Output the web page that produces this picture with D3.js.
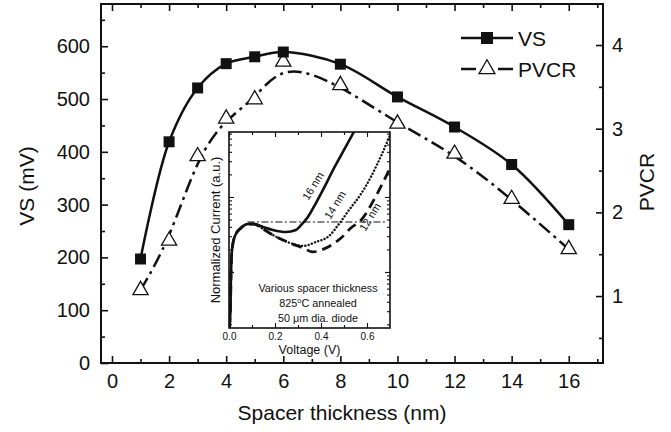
<!DOCTYPE html>
<html>
<head>
<meta charset="utf-8">
<script src="https://cdn.jsdelivr.net/npm/d3@7"></script>
<style>
  body { margin: 0; background: #fff; }
  text { font-family: "Liberation Sans", Arial, Helvetica, sans-serif; fill: #111; }
</style>
</head>
<body>
<div id="chart"></div>
<script>
// Main chart data
const thickness = [1, 2, 3, 4, 5, 6, 8, 10, 12, 14, 16];
const vsValues = [197, 419, 521, 567, 580, 589, 566, 504, 447, 376, 262];
const pvcrValues = [1.07, 1.66, 2.67, 3.12, 3.35, 3.80, 3.52, 3.06, 2.70, 2.16, 1.56];

const xTicks = [0, 2, 4, 6, 8, 10, 12, 14, 16];
const xMinorTicks = [1, 3, 5, 7, 9, 11, 13, 15, 17];
const vsTicks = [0, 100, 200, 300, 400, 500, 600];
const vsMinorTicks = [50, 150, 250, 350, 450, 550, 650];
const pvcrTicks = [1, 2, 3, 4];
const pvcrMinorTicks = [0.5, 1.5, 2.5, 3.5];

// Inset: normalized I-V curves (voltage in V, current in a.u.)
const iv16V = [0.002, 0.003, 0.007, 0.009, 0.013, 0.026, 0.052, 0.083, 0.109, 0.148, 0.191, 0.248, 0.291, 0.313, 0.343, 0.378, 0.413, 0.457, 0.5, 0.543, 0.555];
const iv16I = [0.0179, 0.0197, 0.042, 0.106, 0.196, 0.302, 0.386, 0.436, 0.436, 0.398, 0.363, 0.341, 0.363, 0.42, 0.54, 0.83, 1.32, 2.44, 4.23, 7.36, 8.6];
const iv14V = [0.002, 0.003, 0.007, 0.009, 0.013, 0.026, 0.052, 0.083, 0.109, 0.148, 0.191, 0.265, 0.322, 0.378, 0.435, 0.478, 0.522, 0.574, 0.617, 0.661, 0.704];
const iv14I = [0.0179, 0.0197, 0.042, 0.106, 0.196, 0.302, 0.386, 0.436, 0.436, 0.374, 0.311, 0.244, 0.222, 0.251, 0.302, 0.436, 0.671, 1.10, 1.85, 3.52, 7.13];
const iv12V = [0.002, 0.003, 0.007, 0.009, 0.013, 0.026, 0.052, 0.083, 0.109, 0.148, 0.191, 0.265, 0.322, 0.365, 0.413, 0.487, 0.53, 0.574, 0.639, 0.696];
const iv12I = [0.0179, 0.0197, 0.042, 0.106, 0.196, 0.302, 0.386, 0.436, 0.436, 0.374, 0.311, 0.244, 0.209, 0.185, 0.203, 0.284, 0.386, 0.49, 1.03, 2.29];
const peakV = [0.08, 0.68];
const peakI = 0.464;

const insetVTicks = [0.0, 0.2, 0.4, 0.6];
const insetVMinorTicks = [0.1, 0.3, 0.5];
const insetITicks = [0.1, 1];
const insetIMinorTicks = [0.01, 0.1, 1].flatMap(d => [2, 3, 4, 5, 6, 7, 8, 9].map(m => d * m));

const W = 671, H = 432;
const ink = "#111";

const svg = d3.select("#chart")
    .append("svg")
    .attr("width", W)
    .attr("height", H);

svg.append("rect").attr("width", W).attr("height", H).attr("fill", "#fff");

// Scales for the main plot
const x = d3.scaleLinear().domain([-0.385, 17.2]).range([101, 603]);
const yL = d3.scaleLinear().domain([0, 680]).range([363, 4]);
const yR = d3.scaleLinear().domain([0.2, 4.49]).range([363, 4]);

// Helper: add an axis, strip the domain, style ticks
const addAxis = (parent, axis, transform, fontSize, strokeW) => {
    const g = parent.append("g")
        .attr("transform", transform)
        .call(axis)
        .attr("font-size", fontSize)
        .attr("font-family", null);
    g.select(".domain").remove();
    g.selectAll("line").attr("stroke", ink).attr("stroke-width", strokeW);
    g.selectAll("text").attr("fill", ink);
    return g;
};

const noLabel = () => "";

// Main axes, ticks pointing inward on all four sides
addAxis(svg, d3.axisBottom(x).tickValues(xTicks).tickSize(-7).tickPadding(11).tickSizeOuter(0), "translate(0,363)", 20, 1.6);
addAxis(svg, d3.axisBottom(x).tickValues(xMinorTicks).tickSize(-4).tickFormat(noLabel).tickSizeOuter(0), "translate(0,363)", 10, 1.6);
addAxis(svg, d3.axisTop(x).tickValues(xTicks).tickSize(-7).tickFormat(noLabel).tickSizeOuter(0), "translate(0,4)", 10, 1.6);
addAxis(svg, d3.axisTop(x).tickValues(xMinorTicks).tickSize(-4).tickFormat(noLabel).tickSizeOuter(0), "translate(0,4)", 10, 1.6);

addAxis(svg, d3.axisLeft(yL).tickValues(vsTicks).tickSize(-7).tickPadding(11).tickSizeOuter(0), "translate(101,0)", 20, 1.6);
addAxis(svg, d3.axisLeft(yL).tickValues(vsMinorTicks).tickSize(-4).tickFormat(noLabel).tickSizeOuter(0), "translate(101,0)", 10, 1.6);

addAxis(svg, d3.axisRight(yR).tickValues(pvcrTicks).tickSize(-7).tickPadding(9).tickFormat(d3.format("d")).tickSizeOuter(0), "translate(603,0)", 20, 1.6);
addAxis(svg, d3.axisRight(yR).tickValues(pvcrMinorTicks).tickSize(-4).tickFormat(noLabel).tickSizeOuter(0), "translate(603,0)", 10, 1.6);

// Frame
svg.append("rect")
    .attr("x", 101).attr("y", 4)
    .attr("width", 603 - 101).attr("height", 363 - 4)
    .attr("fill", "none")
    .attr("stroke", ink)
    .attr("stroke-width", 2);

// Axis titles
svg.append("text")
    .attr("x", 342).attr("y", 420)
    .attr("text-anchor", "middle")
    .attr("font-size", 21)
    .text("Spacer thickness (nm)");

svg.append("text")
    .attr("transform", "translate(27,186) rotate(-90)")
    .attr("text-anchor", "middle")
    .attr("dy", "0.35em")
    .attr("font-size", 21)
    .text("VS (mV)");

svg.append("text")
    .attr("transform", "translate(647,182) rotate(-90)")
    .attr("text-anchor", "middle")
    .attr("dy", "0.35em")
    .attr("font-size", 21)
    .text("PVCR");

// Main curves
const vsData = thickness.map((t, i) => ({t: t, v: vsValues[i]}));
const pvcrData = thickness.map((t, i) => ({t: t, v: pvcrValues[i]}));

svg.append("path")
    .datum(vsData)
    .attr("fill", "none")
    .attr("stroke", ink)
    .attr("stroke-width", 2.5)
    .attr("d", d3.line().x(d => x(d.t)).y(d => yL(d.v)).curve(d3.curveCatmullRom));

svg.append("path")
    .datum(pvcrData)
    .attr("fill", "none")
    .attr("stroke", ink)
    .attr("stroke-width", 2.5)
    .attr("stroke-dasharray", "14,5,3,5")
    .attr("d", d3.line().x(d => x(d.t)).y(d => yR(d.v)).curve(d3.curveBasis));

// Markers
const square = d3.symbol(d3.symbolSquare, 121);
const triangle = d3.symbol(d3.symbolTriangle, 100);

svg.selectAll(".pv")
    .data(pvcrData)
    .enter()
    .append("path")
    .attr("class", "pv")
    .attr("d", triangle)
    .attr("transform", d => "translate(" + x(d.t) + "," + yR(d.v) + ")")
    .attr("fill", "#fff")
    .attr("stroke", ink)
    .attr("stroke-width", 1.3);

svg.selectAll(".vs")
    .data(vsData)
    .enter()
    .append("path")
    .attr("class", "vs")
    .attr("d", square)
    .attr("transform", d => "translate(" + x(d.t) + "," + yL(d.v) + ")")
    .attr("fill", ink);

// Legend
const legend = svg.append("g");
legend.append("line").attr("x1", 461).attr("x2", 513).attr("y1", 38).attr("y2", 38)
    .attr("stroke", ink).attr("stroke-width", 2.5);
legend.append("path").attr("d", d3.symbol(d3.symbolSquare, 144))
    .attr("transform", "translate(487,38)").attr("fill", ink);
legend.append("text").attr("x", 518).attr("y", 38).attr("dy", "0.36em")
    .attr("font-size", 21).text("VS");

legend.append("line").attr("x1", 461).attr("x2", 476).attr("y1", 69).attr("y2", 69)
    .attr("stroke", ink).attr("stroke-width", 2.5);
legend.append("line").attr("x1", 498).attr("x2", 513).attr("y1", 69).attr("y2", 69)
    .attr("stroke", ink).attr("stroke-width", 2.5);
legend.append("path").attr("d", d3.symbol(d3.symbolTriangle, 110))
    .attr("transform", "translate(487,69)")
    .attr("fill", "#fff").attr("stroke", ink).attr("stroke-width", 1.3);
legend.append("text").attr("x", 518).attr("y", 69).attr("dy", "0.36em")
    .attr("font-size", 21).text("PVCR");

// ---------------- Inset ----------------
const iw = 161, ih = 196;
const inset = svg.append("g").attr("transform", "translate(229,132)");

inset.append("rect").attr("width", iw).attr("height", ih).attr("fill", "#fff");

const xi = d3.scaleLinear().domain([0, 0.7]).range([0, iw]);
const yi = d3.scaleLog().domain([0.0179, 7.35]).range([ih, 0]);

inset.append("clipPath").attr("id", "insetClip")
    .append("rect").attr("width", iw).attr("height", ih);

const curves = inset.append("g").attr("clip-path", "url(#insetClip)");
const ivLine = d3.line().x(d => xi(d[0])).y(d => yi(d[1])).curve(d3.curveMonotoneX);

// Peak reference line
curves.append("path")
    .datum(peakV.map(v => [v, peakI]))
    .attr("fill", "none")
    .attr("stroke", ink)
    .attr("stroke-width", 1.1)
    .attr("stroke-dasharray", "7,2.5,2,2.5")
    .attr("d", ivLine);

curves.append("path")
    .datum(iv12V.map((v, i) => [v, iv12I[i]]))
    .attr("fill", "none")
    .attr("stroke", ink)
    .attr("stroke-width", 2.8)
    .attr("stroke-dasharray", "10,6")
    .attr("d", ivLine);

curves.append("path")
    .datum(iv14V.map((v, i) => [v, iv14I[i]]))
    .attr("fill", "none")
    .attr("stroke", ink)
    .attr("stroke-width", 2.4)
    .attr("stroke-linecap", "round")
    .attr("stroke-dasharray", "0.1,3.3")
    .attr("d", ivLine);

curves.append("path")
    .datum(iv16V.map((v, i) => [v, iv16I[i]]))
    .attr("fill", "none")
    .attr("stroke", ink)
    .attr("stroke-width", 2.6)
    .attr("d", ivLine);

// Inset axes
addAxis(inset, d3.axisBottom(xi).tickValues(insetVTicks).tickSize(-5).tickPadding(5).tickFormat(d3.format(".1f")).tickSizeOuter(0), "translate(0," + ih + ")", 10, 1.1);
addAxis(inset, d3.axisBottom(xi).tickValues(insetVMinorTicks).tickSize(-3).tickFormat(noLabel).tickSizeOuter(0), "translate(0," + ih + ")", 10, 1.1);
addAxis(inset, d3.axisTop(xi).tickValues(insetVTicks).tickSize(-5).tickFormat(noLabel).tickSizeOuter(0), "translate(0,0)", 10, 1.1);
addAxis(inset, d3.axisTop(xi).tickValues(insetVMinorTicks).tickSize(-3).tickFormat(noLabel).tickSizeOuter(0), "translate(0,0)", 10, 1.1);

const inDomain = v => v >= yi.domain()[0] && v <= yi.domain()[1];
addAxis(inset, d3.axisLeft(yi).tickValues(insetITicks).tickSize(-5).tickFormat(noLabel).tickSizeOuter(0), "translate(0,0)", 10, 1.1);
addAxis(inset, d3.axisLeft(yi).tickValues(insetIMinorTicks.filter(inDomain)).tickSize(-3).tickFormat(noLabel).tickSizeOuter(0), "translate(0,0)", 10, 1.1);
addAxis(inset, d3.axisRight(yi).tickValues(insetITicks).tickSize(-5).tickFormat(noLabel).tickSizeOuter(0), "translate(" + iw + ",0)", 10, 1.1);
addAxis(inset, d3.axisRight(yi).tickValues(insetIMinorTicks.filter(inDomain)).tickSize(-3).tickFormat(noLabel).tickSizeOuter(0), "translate(" + iw + ",0)", 10, 1.1);

inset.append("rect")
    .attr("width", iw).attr("height", ih)
    .attr("fill", "none")
    .attr("stroke", ink)
    .attr("stroke-width", 1.6);

// Inset titles
inset.append("text")
    .attr("x", iw / 2).attr("y", 222)
    .attr("text-anchor", "middle")
    .attr("font-size", 12.5)
    .text("Voltage (V)");

inset.append("text")
    .attr("transform", "translate(-14," + (ih / 2) + ") rotate(-90)")
    .attr("text-anchor", "middle")
    .attr("dy", "0.35em")
    .attr("font-size", 13)
    .text("Normalized Current (a.u.)");

// Inset notes
const notes = inset.append("g").attr("font-size", 10.8).attr("text-anchor", "middle");
notes.append("text").attr("x", 89).attr("y", 160).text("Various spacer thickness");
const ann = notes.append("text").attr("x", 89).attr("y", 175);
ann.append("tspan").text("825");
ann.append("tspan").attr("dy", -4).attr("font-size", 7.5).text("o");
ann.append("tspan").attr("dy", 4).text("C annealed");
notes.append("text").attr("x", 89).attr("y", 190).text("50 \u03bcm dia. diode");

// Curve labels
const curveLabels = [["16 nm", 84, 54], ["14 nm", 106, 73], ["12 nm", 141, 85]];
inset.selectAll(".clabel")
    .data(curveLabels)
    .enter()
    .append("text")
    .attr("class", "clabel")
    .attr("transform", d => "translate(" + d[1] + "," + d[2] + ") rotate(-58)")
    .attr("text-anchor", "middle")
    .attr("dy", "0.35em")
    .attr("font-size", 11)
    .text(d => d[0]);
</script>
</body>
</html>
